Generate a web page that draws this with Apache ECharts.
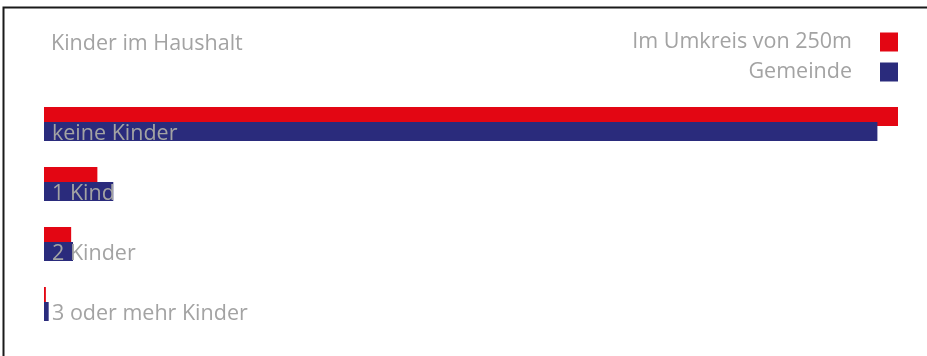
<!DOCTYPE html>
<html>
<head>
<meta charset="utf-8">
<script src="https://cdn.jsdelivr.net/npm/echarts@6/dist/echarts.min.js"></script>
<style>
  html, body { margin: 0; padding: 0; background: #fff; }
  #chart { width: 927px; height: 356px; }
</style>
</head>
<body>
<div id="chart"></div>
<script>
// Households by number of children (share in %)
const categories = ['keine Kinder', '1 Kind', '2 Kinder', '3 oder mehr Kinder'];
const umkreisValues = [91.2, 5.7, 2.9, 0.2];
const gemeindeValues = [89.0, 7.4, 3.1, 0.5];
const seriesNames = ['Im Umkreis von 250m', 'Gemeinde'];
const chartTitle = 'Kinder im Haushalt';

const FONT = '"Open Sans", sans-serif';
const FONT_SIZE = 21.5;
const GREY = '#a3a3a3';

const chart = echarts.init(document.getElementById('chart'), null, { renderer: 'canvas' });

chart.setOption({
  animation: false,
  backgroundColor: '#fff',
  title: {
    text: chartTitle,
    left: 51,
    top: 33,
    padding: 0,
    textStyle: { fontFamily: FONT, fontSize: FONT_SIZE, fontWeight: 'normal', color: GREY }
  },
  legend: {
    orient: 'vertical',
    right: 29,
    top: 31,
    padding: 0,
    align: 'right',
    itemWidth: 18,
    itemHeight: 19,
    itemGap: 8,
    icon: 'rect',
    selectedMode: false,
    textStyle: {
      fontFamily: FONT, fontSize: FONT_SIZE, color: GREY,
      padding: [0, 23, 0, 0], lineHeight: 19
    },
    data: seriesNames
  },
  graphic: [{
    type: 'polyline',
    silent: true,
    shape: { points: [[3.5, 400], [3.5, 7.5], [940, 7.5]] },
    style: { stroke: '#1a1a1a', lineWidth: 2, fill: null }
  }],
  grid: { left: 44, right: 29, top: 94, bottom: 22, containLabel: false },
  xAxis: {
    type: 'value', min: 0, max: 91.2,
    show: false
  },
  yAxis: {
    type: 'category', data: categories, inverse: true,
    show: false
  },
  series: [
    {
      name: seriesNames[0],
      type: 'bar',
      data: umkreisValues,
      barWidth: 19,
      barGap: '-21.05%',
      itemStyle: { color: '#e30613' }
    },
    {
      name: seriesNames[1],
      type: 'bar',
      data: gemeindeValues,
      barWidth: 19,
      barGap: '-21.05%',
      itemStyle: { color: '#2a2b7c' },
      label: {
        show: true,
        position: [8, '50%'],
        offset: [0, 2],
        align: 'left',
        verticalAlign: 'middle',
        formatter: (p) => p.name,
        fontFamily: FONT,
        fontSize: FONT_SIZE,
        color: GREY
      }
    }
  ]
});
</script>
</body>
</html>
